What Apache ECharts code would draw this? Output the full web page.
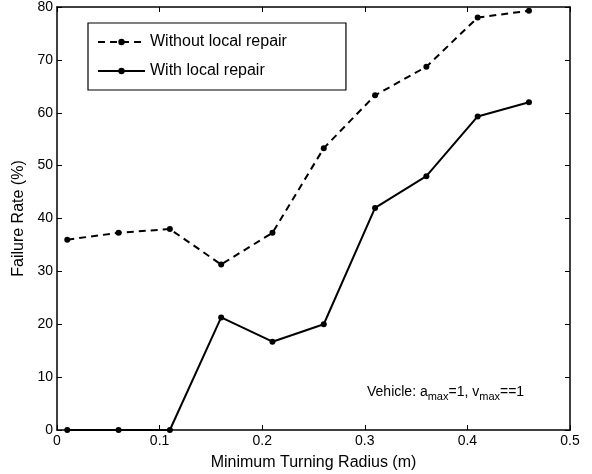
<!DOCTYPE html>
<html>
<head>
<meta charset="utf-8">
<script src="https://cdn.jsdelivr.net/npm/echarts@6/dist/echarts.min.js"></script>
<style>
  html, body { margin: 0; padding: 0; background: #fff; }
  #chart { width: 592px; height: 474px; }
</style>
</head>
<body>
<div id="chart"></div>
<script>
// turning radius (m)
const radius = [0.01, 0.06, 0.11, 0.16, 0.21, 0.26, 0.31, 0.36, 0.41, 0.46]
// failure rate (%)
const withoutRepair = [36, 37.3, 38, 31.3, 37.3, 53.3, 63.3, 68.7, 78, 79.3]
const withRepair = [0, 0, 0, 21.3, 16.7, 20, 42, 48, 59.3, 62]
const xTicks = [0, 0.1, 0.2, 0.3, 0.4, 0.5]
const yTicks = [0, 10, 20, 30, 40, 50, 60, 70, 80]

const font = 'Liberation Sans, Arial, sans-serif'
const chart = echarts.init(document.getElementById('chart'))

const pairs = (ys) => radius.map((x, i) => [x, ys[i]])

// 四周都有刻度的坐标框
const baseAxis = {
  axisLine: { show: true, onZero: false, lineStyle: { color: '#000', width: 1.5 } },
  axisTick: { show: true, inside: true, length: 5, lineStyle: { color: '#000' } },
  splitLine: { show: false }
}

chart.setOption({
  animation: false,
  grid: { left: 57, right: 22, top: 7, bottom: 44, containLabel: false, outerBoundsMode: 'none' },
  xAxis: [
    {
      ...baseAxis,
      type: 'value',
      min: xTicks[0],
      max: xTicks[xTicks.length - 1],
      interval: 0.1,
      name: 'Minimum Turning Radius (m)',
      nameLocation: 'middle',
      nameGap: 25,
      nameTextStyle: { color: '#000', fontSize: 16, fontFamily: font },
      axisLabel: { color: '#000', fontSize: 14, fontFamily: font, margin: 4 }
    },
    {
      ...baseAxis,
      type: 'value',
      position: 'top',
      min: xTicks[0],
      max: xTicks[xTicks.length - 1],
      interval: 0.1,
      axisLabel: { show: false }
    }
  ],
  yAxis: [
    {
      ...baseAxis,
      type: 'value',
      min: yTicks[0],
      max: yTicks[yTicks.length - 1],
      interval: 10,
      name: 'Failure Rate (%)',
      nameLocation: 'middle',
      nameGap: 28,
      nameTextStyle: { color: '#000', fontSize: 16, fontFamily: font },
      axisLabel: { color: '#000', fontSize: 14, fontFamily: font, margin: 4 }
    },
    {
      ...baseAxis,
      type: 'value',
      position: 'right',
      min: yTicks[0],
      max: yTicks[yTicks.length - 1],
      interval: 10,
      axisLabel: { show: false }
    }
  ],
  legend: {
    orient: 'vertical',
    left: 88,
    top: 23,
    padding: [11, 59, 11, 9],
    itemGap: 13,
    itemWidth: 47,
    itemHeight: 8,
    borderColor: '#000',
    borderWidth: 1.2,
    backgroundColor: '#fff',
    textStyle: { color: '#000', fontSize: 16, fontFamily: font, lineHeight: 16 },
    data: ['Without local repair', 'With local repair']
  },
  graphic: [
    {
      type: 'text',
      left: 367,
      top: 382,
      style: {
        text: '{n|Vehicle: a}{s|max}{n|=1, v}{s|max}{n|==1}',
        rich: {
          n: { fontSize: 14, fontFamily: font, fill: '#000', lineHeight: 18 },
          s: { fontSize: 11, fontFamily: font, fill: '#000', padding: [9, 0, 0, 0], lineHeight: 18 }
        }
      }
    }
  ],
  series: [
    {
      name: 'Without local repair',
      type: 'line',
      data: pairs(withoutRepair),
      symbol: 'circle',
      symbolSize: 6,
      itemStyle: { color: '#000' },
      lineStyle: { color: '#000', width: 2, type: [7, 5] }
    },
    {
      name: 'With local repair',
      type: 'line',
      data: pairs(withRepair),
      symbol: 'circle',
      symbolSize: 6,
      itemStyle: { color: '#000' },
      lineStyle: { color: '#000', width: 2 }
    }
  ]
})
</script>
</body>
</html>
